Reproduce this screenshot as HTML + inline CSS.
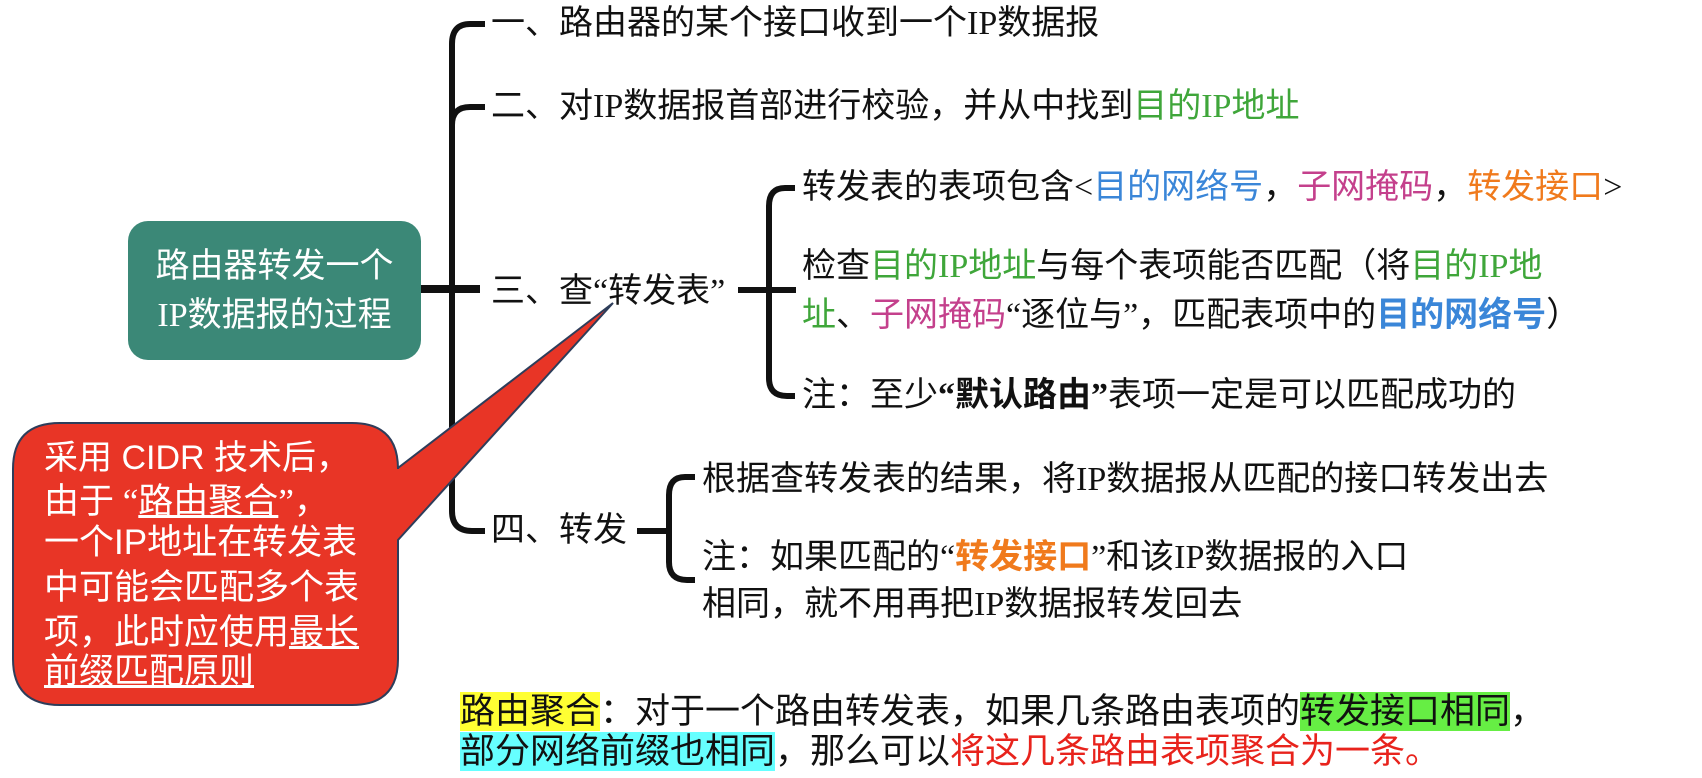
<!DOCTYPE html>
<html><head><meta charset="utf-8"><style>
html,body{margin:0;padding:0;background:#fff;}
body{width:1702px;height:778px;position:relative;overflow:hidden;font-family:"Liberation Serif","Noto Sans CJK SC",sans-serif;color:#111;}
.t{position:absolute;white-space:nowrap;font-size:34px;line-height:40px;}
.g{color:#3fa63a}.b{color:#3a86d8}.p{color:#c4408c}.o{color:#f07a1c}.r{color:#e8231c}
.w{color:#fff;}
svg{position:absolute;left:0;top:0;}
</style></head><body>
<svg width="1702" height="778" viewBox="0 0 1702 778">
  <!-- teal box -->
  <rect x="128" y="221" width="293" height="139" rx="20" fill="#3b8877"/>
  <!-- main bracket -->
  <g fill="none" stroke="#111" stroke-width="6">
    <path d="M485 24 L470 24 Q452 24 452 44 L452 511 Q452 531 472 531 L485 531"/>
    <path d="M485 107 L470 107 Q452 107 452 125"/>
    <path d="M421 289 L480 289" stroke-width="8"/>
    <!-- second bracket -->
    <path d="M795 188 L785 188 Q769 188 769 206 L769 378 Q769 396 787 396 L795 396"/>
    <path d="M738 290 L796 290"/>
    <!-- third bracket -->
    <path d="M695 477 L685 477 Q669 477 669 495 L669 562 Q669 580 687 580 L695 580"/>
    <path d="M637 531 L669 531"/>
  </g>
  <!-- callout -->
  <path d="M60 423 L352 423 Q398 423 398 469 L398 468 L613 303 L398 540 L398 659 Q398 705 352 705 L60 705 Q13 705 13 659 L13 469 Q13 423 60 423 Z" fill="#e83526" stroke="#2e3d5a" stroke-width="2"/>
</svg>

<div class="t w" style="left:128px;width:293px;text-align:center;top:247px;">路由器转发一个</div>
<div class="t w" style="left:128px;width:293px;text-align:center;top:296px;">IP数据报的过程</div>

<div class="t" style="left:491px;top:4px;">一、路由器的某个接口收到一个IP数据报</div>
<div class="t" style="left:491px;top:87px;">二、对IP数据报首部进行校验，并从中找到<span class="g">目的IP地址</span></div>
<div class="t" style="left:491px;top:272px;">三、查“转发表”</div>
<div class="t" style="left:491px;top:511px;">四、转发</div>

<div class="t" style="left:802px;top:168px;">转发表的表项包含&lt;<span class="b">目的网络号</span>，<span class="p">子网掩码</span>，<span class="o">转发接口</span>&gt;</div>
<div class="t" style="left:802px;top:247px;">检查<span class="g">目的IP地址</span>与每个表项能否匹配（将<span class="g">目的IP地</span></div>
<div class="t" style="left:802px;top:296px;"><span class="g">址</span>、<span class="p">子网掩码</span>“逐位与”，匹配表项中的<b class="b">目的网络号</b>）</div>
<div class="t" style="left:802px;top:376px;">注：至少<b>“默认路由”</b>表项一定是可以匹配成功的</div>

<div class="t" style="left:702px;top:460px;">根据查转发表的结果，将IP数据报从匹配的接口转发出去</div>
<div class="t" style="left:702px;top:538px;">注：如果匹配的“<b class="o">转发接口</b>”和该IP数据报的入口</div>
<div class="t" style="left:702px;top:585px;">相同，就不用再把IP数据报转发回去</div>

<div class="t w" style="left:44px;top:438px;font-size:34px;font-family:'Liberation Sans','Noto Sans CJK SC',sans-serif;">采用 CIDR 技术后，</div>
<div class="t w" style="left:44px;top:482px;font-size:35px;">由于 “<u>路由聚合</u>”，</div>
<div class="t w" style="left:44px;top:523px;font-size:35px;font-family:'Liberation Sans','Noto Sans CJK SC',sans-serif;">一个IP地址在转发表</div>
<div class="t w" style="left:44px;top:568px;font-size:35px;">中可能会匹配多个表</div>
<div class="t w" style="left:44px;top:613px;font-size:35px;">项，此时应使用<u>最长</u></div>
<div class="t w" style="left:44px;top:652px;font-size:35px;"><u>前缀匹配原则</u></div>

<div class="t" style="left:460px;top:692px;font-size:35px;"><span style="background:#ffff33">路由聚合</span>：对于一个路由转发表，如果几条路由表项的<span style="background:#66ee44">转发接口相同</span>，</div>
<div class="t" style="left:460px;top:732px;font-size:35px;"><span style="background:#66ffff">部分网络前缀也相同</span>，那么可以<span class="r">将这几条路由表项聚合为一条。</span></div>
</body></html>
